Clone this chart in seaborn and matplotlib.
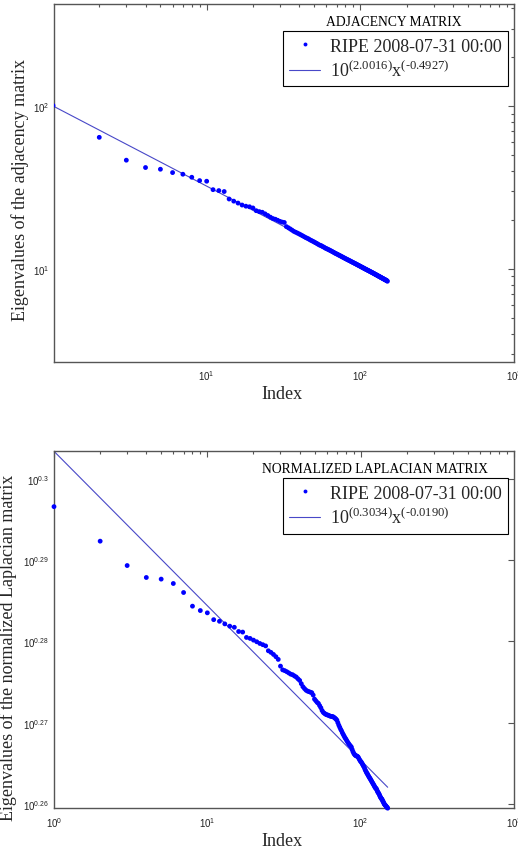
import numpy as np
import pandas as pd
import matplotlib
matplotlib.use("Agg")
import matplotlib.pyplot as plt
import seaborn as sns
from matplotlib.lines import Line2D
from matplotlib.ticker import FixedLocator, FixedFormatter, NullLocator, LogLocator

# ---------------- data ----------------
adj_index = list(range(1, 151))
adj_eig = [
    101.0, 64.4, 46.6, 42.0, 41.0, 39.1, 38.2, 36.6, 34.9, 34.6,
    30.7, 30.3, 29.9, 26.9, 26.1, 25.4, 24.7, 24.3, 24.1, 23.7,
    22.8, 22.5, 22.3, 21.8, 21.3, 20.8, 20.4, 20.2, 19.9, 19.6,
    19.4, 19.3, 18.2, 17.9, 17.6, 17.3, 17.0, 16.8, 16.6, 16.4,
    16.2, 16.0, 15.8, 15.6, 15.45, 15.3, 15.1, 14.95, 14.8, 14.65,
    14.5, 14.35, 14.2, 14.05, 13.95, 13.85, 13.7, 13.6, 13.45, 13.35,
    13.25, 13.15, 13.05, 12.95, 12.85, 12.75, 12.65, 12.55, 12.45, 12.37,
    12.3, 12.2, 12.12, 12.04, 11.96, 11.88, 11.8, 11.72, 11.65, 11.58,
    11.5, 11.44, 11.37, 11.31, 11.24, 11.18, 11.11, 11.05, 10.99, 10.93,
    10.87, 10.81, 10.76, 10.7, 10.64, 10.59, 10.53, 10.48, 10.43, 10.37,
    10.32, 10.27, 10.22, 10.17, 10.12, 10.07, 10.02, 9.98, 9.93, 9.89,
    9.84, 9.8, 9.76, 9.72, 9.67, 9.63, 9.59, 9.55, 9.51, 9.47,
    9.43, 9.39, 9.35, 9.31, 9.27, 9.23, 9.2, 9.16, 9.12, 9.08,
    9.05, 9.01, 8.98, 8.94, 8.91, 8.87, 8.84, 8.8, 8.77, 8.74,
    8.71, 8.67, 8.64, 8.61, 8.58, 8.55, 8.52, 8.49, 8.46, 8.40,
]

lap_index = list(range(1, 151))
lap_log10 = [
    0.29659, 0.29234, 0.28934, 0.28787, 0.28767, 0.28713, 0.28602, 0.28434, 0.28380, 0.28352,
    0.28268, 0.28248, 0.28216, 0.28188, 0.28174, 0.28122, 0.28115, 0.28049, 0.28037, 0.28016,
    0.27996, 0.27975, 0.27960, 0.27945, 0.27885, 0.27865, 0.27840, 0.27812, 0.27779, 0.27696,
    0.27650, 0.27640, 0.27627, 0.27612, 0.27597, 0.27590, 0.27575, 0.27562, 0.27540, 0.27520,
    0.27480, 0.27443, 0.27420, 0.27400, 0.27389, 0.27382, 0.27375, 0.27369, 0.27340, 0.27290,
    0.27270, 0.27250, 0.27237, 0.27210, 0.27184, 0.27150, 0.27127, 0.27115, 0.27105, 0.27098,
    0.27094, 0.27088, 0.27082, 0.27078, 0.27076, 0.27074, 0.27065, 0.27055, 0.27045, 0.27030,
    0.27000, 0.26970, 0.26945, 0.26920, 0.26900, 0.26875, 0.26855, 0.26835, 0.26815, 0.26800,
    0.26782, 0.26765, 0.26750, 0.26735, 0.26722, 0.26710, 0.26700, 0.26670, 0.26645, 0.26625,
    0.26612, 0.26600, 0.26595, 0.26590, 0.26586, 0.26580, 0.26565, 0.26550, 0.26535, 0.26522,
    0.26515, 0.26500, 0.26485, 0.26470, 0.26458, 0.26440, 0.26420, 0.26405, 0.26390, 0.26376,
    0.26365, 0.26350, 0.26338, 0.26325, 0.26315, 0.26302, 0.26290, 0.26278, 0.26265, 0.26254,
    0.26242, 0.26230, 0.26218, 0.26205, 0.26195, 0.26192, 0.26180, 0.26165, 0.26150, 0.26140,
    0.26131, 0.26120, 0.26105, 0.26090, 0.26080, 0.26070, 0.26062, 0.26055, 0.26040, 0.26030,
    0.26018, 0.26005, 0.25995, 0.25988, 0.25982, 0.25975, 0.25968, 0.25960, 0.25955, 0.25948,
]

adj_fit = (2.0016, -0.4927)     # log10 intercept, slope
lap_fit = (0.3034, -0.0190)
fit_range = [1, 150]

series_label = "RIPE 2008-07-31 00:00"
adj_fit_label = r"$\mathregular{10^{(2.0016)}x^{(\text{-}0.4927)}}$"
lap_fit_label = r"$\mathregular{10^{(0.3034)}x^{(\text{-}0.0190)}}$"
adj_title = "ADJACENCY MATRIX"
lap_title = "NORMALIZED LAPLACIAN MATRIX"
adj_ylabel = "Eigenvalues of the adjacency matrix"
lap_ylabel = "Eigenvalues of the normalized Laplacian matrix"
xlabel = "Index"
lap_ytick_exp = [0.26, 0.27, 0.28, 0.29, 0.30]
lap_ytick_labels = [r"$10^{0.26}$", r"$10^{0.27}$", r"$10^{0.28}$", r"$10^{0.29}$", r"$10^{0.3}$"]

# ---------------- style ----------------
sns.set_style("white")
plt.rcParams["font.family"] = ["Liberation Sans", "DejaVu Sans"]
plt.rcParams["mathtext.fontset"] = "custom"
plt.rcParams["mathtext.rm"] = "Liberation Sans"
plt.rcParams["mathtext.it"] = "Liberation Sans"

SERIF = ["Liberation Serif", "DejaVu Serif"]
DOT_C = "#0000ff"
LINE_C = "#4848c8"
SPINE_C = "#555555"

fig = plt.figure(figsize=(5.18, 8.54), dpi=100)
ax1 = fig.add_axes([54 / 518, 1 - 362.7 / 854, 460 / 518, 357.7 / 854])
ax2 = fig.add_axes([54 / 518, 1 - 809 / 854, 460 / 518, 356.7 / 854])

adj_df = pd.DataFrame({"Index": adj_index, "Eig": adj_eig})
lap_df = pd.DataFrame({"Index": lap_index, "Eig": np.power(10.0, lap_log10)})


def fit_df(coef):
    xs = np.array(fit_range, dtype=float)
    return pd.DataFrame({"Index": xs, "Fit": 10 ** (coef[0] + coef[1] * np.log10(xs))})


def style_axes(ax):
    ax.set_xscale("log")
    ax.set_yscale("log")
    for sp in ax.spines.values():
        sp.set_visible(True)
        sp.set_color(SPINE_C)
        sp.set_linewidth(1.0)
    ax.tick_params(which="both", direction="in", top=True, right=True,
                   colors=SPINE_C, labelcolor="#222222", labelsize=7, width=0.8)
    ax.tick_params(which="major", length=4)
    ax.tick_params(which="minor", length=2.5)
    ax.tick_params(axis="x", which="both", pad=5)
    ax.set_facecolor("white")


for ax, df, coef, fl, title, tpos, ylab, ylx, yly, clip in [
    (ax1, adj_df, adj_fit, adj_fit_label, adj_title, (0.739, 0.950), adj_ylabel, -0.074, 0.483, True),
    (ax2, lap_df, lap_fit, lap_fit_label, lap_title, (0.697, 0.952), lap_ylabel, -0.099, 0.451, False),
]:
    style_axes(ax)
    sns.scatterplot(data=df, x="Index", y="Eig", ax=ax, color=DOT_C, marker="o",
                    s=12, edgecolor="none", linewidth=0, clip_on=clip, zorder=3)
    sns.lineplot(data=fit_df(coef), x="Index", y="Fit", ax=ax, color=LINE_C,
                 lw=0.8, zorder=2)
    ax.text(tpos[0], tpos[1], title, transform=ax.transAxes, ha="center",
            va="center", family=SERIF, fontsize=9.8, color="black")
    handles = [Line2D([], [], ls="", marker="o", ms=2.8, color=DOT_C, mec="none"),
               Line2D([], [], color=LINE_C, lw=0.8)]
    leg = ax.legend(handles, [series_label, fl], loc="upper right",
                    bbox_to_anchor=(0.988, 0.924), borderaxespad=0,
                    prop={"family": SERIF, "size": 13}, frameon=True,
                    fancybox=False, edgecolor="black", framealpha=1,
                    borderpad=0.35, labelspacing=0.3, handlelength=1.75,
                    handletextpad=0.55)
    leg.get_frame().set_linewidth(0.8)
    ax.set_xlabel(xlabel, family=SERIF, fontsize=13)
    ax.set_ylabel(ylab, family=SERIF, fontsize=13)
    ax.yaxis.set_label_coords(ylx, yly)
    ax.xaxis.set_label_coords(0.496, -0.09)
    ax.xaxis.label.set_va("center")
    ax.yaxis.label.set_va("center")

ax1.set_xlim(1.015, 1000)
ax1.set_ylim(2.69, 425)
ax1.xaxis.set_major_locator(LogLocator(base=10))

ax2.set_xlim(1, 1000)
ax2.set_ylim(10 ** 0.2595, 10 ** 0.3034)
ax2.yaxis.set_major_locator(FixedLocator([10 ** e for e in lap_ytick_exp]))
ax2.yaxis.set_major_formatter(FixedFormatter(lap_ytick_labels))
ax2.yaxis.set_minor_locator(NullLocator())

fig.savefig("out.png", dpi=100, facecolor="white")
